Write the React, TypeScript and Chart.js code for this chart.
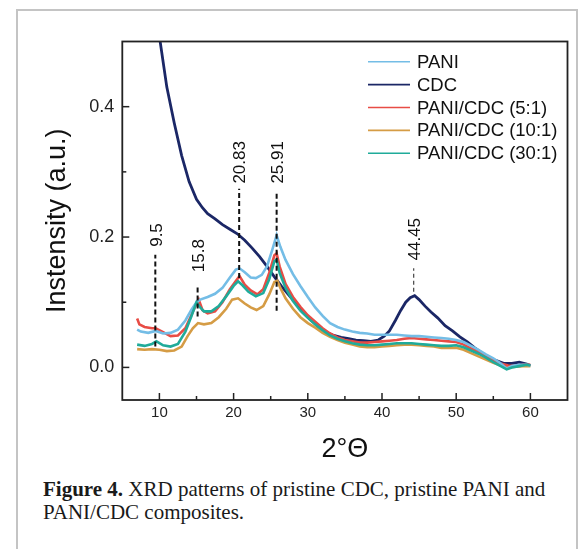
import React, { useEffect, useRef } from 'react';
import { Chart, registerables } from 'chart.js';

Chart.register(...registerables);

const SANS = '"Liberation Sans", Arial, sans-serif';

// ---------- data ----------
const seriesNames = ['PANI', 'CDC', 'PANI/CDC (5:1)', 'PANI/CDC (10:1)', 'PANI/CDC (30:1)'];
const seriesColors = ['#74bde6', '#1b2766', '#e84c45', '#d59c45', '#1fab9a'];

const paniX = [7.0, 7.5, 8.5, 9.5, 10.5, 11.5, 12.5, 13.5, 14.3, 15.0, 15.5, 16.5, 17.5, 18.5, 19.5, 20.3, 20.8, 21.5, 22.3, 23.0, 23.8, 24.5, 25.2, 25.8, 26.3, 27.0, 28.0, 29.0, 30.0, 31.0, 32.0, 33.0, 34.0, 35.0, 36.0, 37.0, 38.0, 39.0, 40.0, 41.0, 42.0, 43.0, 44.0, 45.0, 46.0, 47.0, 48.0, 49.0, 50.0, 51.0, 52.0, 53.0, 54.0, 55.0, 56.0, 56.8, 57.5, 58.5, 59.5, 60.0];
const paniY = [0.058, 0.055, 0.053, 0.056, 0.052, 0.053, 0.058, 0.072, 0.088, 0.100, 0.104, 0.108, 0.113, 0.122, 0.138, 0.150, 0.152, 0.146, 0.138, 0.137, 0.142, 0.155, 0.180, 0.203, 0.185, 0.165, 0.143, 0.125, 0.108, 0.092, 0.079, 0.068, 0.062, 0.058, 0.055, 0.053, 0.052, 0.050, 0.050, 0.050, 0.050, 0.049, 0.048, 0.048, 0.047, 0.046, 0.045, 0.044, 0.042, 0.039, 0.033, 0.027, 0.020, 0.014, 0.006, -0.002, 0.002, 0.004, 0.004, 0.003];

const cdcX = [9.5, 10.1, 11.0, 12.0, 13.0, 14.0, 15.0, 15.8, 16.5, 17.5, 18.5, 19.5, 20.5, 21.5, 22.5, 23.5, 24.5, 25.5, 26.5, 27.5, 28.5, 29.5, 30.5, 31.5, 32.5, 33.5, 34.5, 35.5, 36.5, 37.5, 38.5, 39.5, 40.3, 41.0, 41.8, 42.5, 43.2, 43.8, 44.4, 45.0, 45.8, 46.6, 47.5, 48.5, 49.5, 50.5, 51.5, 52.5, 53.5, 54.5, 55.5, 56.5, 57.5, 58.5, 59.5, 60.0];
const cdcY = [0.55, 0.50, 0.43, 0.375, 0.325, 0.285, 0.258, 0.245, 0.236, 0.228, 0.219, 0.212, 0.205, 0.195, 0.183, 0.170, 0.155, 0.139, 0.124, 0.110, 0.097, 0.083, 0.072, 0.062, 0.054, 0.049, 0.046, 0.044, 0.042, 0.041, 0.040, 0.042, 0.048, 0.056, 0.072, 0.087, 0.100, 0.107, 0.110, 0.104, 0.094, 0.085, 0.076, 0.064, 0.056, 0.047, 0.039, 0.030, 0.022, 0.014, 0.010, 0.006, 0.006, 0.008, 0.005, 0.003];

const p5X = [7.0, 7.3, 8.0, 9.0, 9.5, 10.5, 11.5, 12.5, 13.5, 14.3, 15.0, 15.3, 15.8, 16.5, 17.5, 18.5, 19.5, 20.4, 20.8, 21.5, 22.3, 23.2, 24.0, 24.8, 25.5, 25.8, 26.2, 27.0, 28.0, 29.0, 30.0, 31.0, 32.0, 33.0, 34.0, 35.0, 36.0, 37.0, 38.0, 39.0, 40.0, 41.0, 42.0, 43.0, 44.0, 45.0, 46.0, 47.0, 48.0, 49.0, 50.0, 51.0, 52.0, 53.0, 54.0, 55.0, 56.0, 57.0, 58.0, 59.0, 60.0];
const p5Y = [0.075, 0.066, 0.062, 0.060, 0.060, 0.054, 0.048, 0.049, 0.060, 0.080, 0.098, 0.104, 0.088, 0.083, 0.086, 0.100, 0.120, 0.134, 0.140, 0.127, 0.118, 0.112, 0.120, 0.145, 0.172, 0.175, 0.155, 0.128, 0.108, 0.093, 0.080, 0.070, 0.060, 0.052, 0.046, 0.042, 0.040, 0.038, 0.038, 0.039, 0.040, 0.041, 0.042, 0.044, 0.045, 0.044, 0.043, 0.042, 0.041, 0.040, 0.039, 0.035, 0.029, 0.023, 0.017, 0.011, 0.006, 0.003, 0.002, 0.004, 0.004];

const p10X = [7.0, 8.0, 9.0, 10.0, 11.0, 12.0, 13.0, 13.8, 14.5, 15.2, 16.0, 17.0, 18.0, 19.0, 19.8, 20.6, 21.5, 22.3, 23.1, 24.0, 24.8, 25.5, 25.9, 26.3, 27.0, 28.0, 29.0, 30.0, 31.0, 32.0, 33.0, 34.0, 35.0, 36.0, 37.0, 38.0, 39.0, 40.0, 41.0, 42.0, 43.0, 44.0, 45.0, 46.0, 47.0, 48.0, 49.0, 50.0, 51.0, 52.0, 53.0, 54.0, 55.0, 56.0, 57.0, 58.0, 59.0, 60.0];
const p10Y = [0.028, 0.027, 0.028, 0.027, 0.025, 0.026, 0.032, 0.048, 0.060, 0.068, 0.066, 0.068, 0.077, 0.090, 0.104, 0.106, 0.098, 0.092, 0.088, 0.094, 0.112, 0.131, 0.133, 0.122, 0.106, 0.090, 0.077, 0.068, 0.061, 0.053, 0.047, 0.042, 0.038, 0.035, 0.032, 0.031, 0.031, 0.032, 0.033, 0.034, 0.035, 0.035, 0.034, 0.033, 0.032, 0.030, 0.030, 0.030, 0.027, 0.022, 0.017, 0.012, 0.007, 0.003, 0.000, 0.001, 0.002, 0.002];

const p30X = [7.0, 8.0, 9.0, 9.6, 10.5, 11.5, 12.5, 13.5, 14.3, 15.0, 15.5, 16.0, 17.0, 18.0, 19.0, 20.0, 20.6, 21.2, 22.0, 23.0, 24.0, 24.8, 25.5, 25.8, 26.2, 27.0, 28.0, 29.0, 30.0, 31.0, 32.0, 33.0, 34.0, 35.0, 36.0, 37.0, 38.0, 39.0, 40.0, 41.0, 42.0, 43.0, 44.0, 45.0, 46.0, 47.0, 48.0, 49.0, 50.0, 51.0, 52.0, 53.0, 54.0, 55.0, 56.0, 56.8, 57.5, 58.5, 59.5, 60.0];
const p30Y = [0.035, 0.033, 0.036, 0.040, 0.034, 0.032, 0.036, 0.055, 0.078, 0.100, 0.092, 0.086, 0.086, 0.094, 0.109, 0.125, 0.132, 0.126, 0.116, 0.109, 0.114, 0.135, 0.163, 0.165, 0.145, 0.122, 0.102, 0.087, 0.076, 0.066, 0.057, 0.049, 0.044, 0.040, 0.037, 0.035, 0.034, 0.034, 0.035, 0.036, 0.037, 0.037, 0.037, 0.036, 0.035, 0.034, 0.033, 0.033, 0.034, 0.031, 0.026, 0.021, 0.015, 0.008, 0.002, -0.003, 0.000, 0.002, 0.004, 0.003];

const xTickValues = [10, 20, 30, 40, 50, 60];
const xMinorTicks = [15, 25, 35, 45, 55];
const yTickValues = [0.0, 0.2, 0.4];
const yMinorTicks = [0.1, 0.3];

const peakPositions = [9.45, 15.15, 20.75, 25.8, 44.27];
const peakLabels = ['9.5', '15.8', '20.83', '25.91', '44.45'];
const peakLineBottom = [0.032, 0.078, 0.137, 0.087, 0.116];
const peakLineTop = [0.173, 0.127, 0.274, 0.269, 0.152];
const peakLabelBase = [0.185, 0.146, 0.282, 0.282, 0.164];

const xTitle = '2°Θ';
const yTitle = 'Instensity (a.u.)';

// ---------- helpers ----------
const toPoints = (xs: number[], ys: number[]) => xs.map((x, i) => ({ x, y: ys[i] }));

const seriesData = [
  toPoints(paniX, paniY),
  toPoints(cdcX, cdcY),
  toPoints(p5X, p5Y),
  toPoints(p10X, p10Y),
  toPoints(p30X, p30Y),
];
// drawing order: lower number drawn on top
const drawOrder = [1, 4, 2, 3, 0];
const lineWidths = [2.6, 2.8, 2.6, 2.6, 2.6];

const overlayPlugin = {
  id: 'overlay',
  afterDatasetsDraw(chart: any) {
    const { ctx, chartArea: a, scales } = chart;
    const xs = scales.x;
    const ys = scales.y;
    ctx.save();

    // peak markers
    peakPositions.forEach((p, i) => {
      const px = xs.getPixelForValue(p);
      const thin = i === 4;
      ctx.beginPath();
      ctx.setLineDash(thin ? [4, 3] : [5, 3]);
      ctx.lineWidth = thin ? 1.2 : 2;
      ctx.strokeStyle = thin ? '#444' : '#111';
      ctx.moveTo(px, ys.getPixelForValue(peakLineBottom[i]));
      ctx.lineTo(px, ys.getPixelForValue(peakLineTop[i]));
      ctx.stroke();
      ctx.setLineDash([]);
      ctx.save();
      ctx.translate(px + 1.5, ys.getPixelForValue(peakLabelBase[i]));
      ctx.rotate(-Math.PI / 2);
      ctx.font = `17px ${SANS}`;
      ctx.fillStyle = '#111';
      ctx.textAlign = 'left';
      ctx.textBaseline = 'middle';
      ctx.fillText(peakLabels[i], 0, 0);
      ctx.restore();
    });

    // inward tick marks
    ctx.strokeStyle = '#222';
    ctx.lineWidth = 1.5;
    const tickX = (v: number, len: number) => {
      const px = xs.getPixelForValue(v);
      ctx.beginPath();
      ctx.moveTo(px, a.bottom);
      ctx.lineTo(px, a.bottom - len);
      ctx.stroke();
    };
    const tickY = (v: number, len: number) => {
      const py = ys.getPixelForValue(v);
      ctx.beginPath();
      ctx.moveTo(a.left, py);
      ctx.lineTo(a.left + len, py);
      ctx.stroke();
    };
    xTickValues.forEach((v) => tickX(v, 7));
    xMinorTicks.forEach((v) => tickX(v, 4));
    yTickValues.forEach((v) => tickY(v, 7));
    yMinorTicks.forEach((v) => tickY(v, 4));

    // frame
    ctx.lineWidth = 1.8;
    ctx.strokeRect(a.left, a.top, a.right - a.left, a.bottom - a.top);

    // legend
    ctx.font = `18.5px ${SANS}`;
    ctx.textAlign = 'left';
    ctx.textBaseline = 'middle';
    seriesNames.forEach((name, i) => {
      const y = a.top + 20.2 + i * 22.9;
      ctx.beginPath();
      ctx.strokeStyle = seriesColors[i];
      ctx.lineWidth = 1.6;
      ctx.moveTo(a.right - 199.5, y);
      ctx.lineTo(a.right - 157.5, y);
      ctx.stroke();
      ctx.fillStyle = '#111';
      ctx.fillText(name, a.right - 150.5, y + 1);
    });
    ctx.restore();
  },
};

export default function App() {
  const ref = useRef<HTMLCanvasElement | null>(null);

  useEffect(() => {
    if (!ref.current) return;
    const chart = new Chart(ref.current, {
      type: 'line',
      data: {
        datasets: seriesNames.map((name, i) => ({
          label: name,
          data: seriesData[i],
          borderColor: seriesColors[i],
          backgroundColor: seriesColors[i],
          borderWidth: lineWidths[i],
          pointRadius: 0,
          tension: 0,
          fill: false,
          order: drawOrder[i],
        })),
      },
      options: {
        animation: false,
        responsive: false,
        devicePixelRatio: 1,
        layout: { padding: { left: 0, top: 41.5, right: 16.5, bottom: 0 } },
        plugins: { legend: { display: false }, tooltip: { enabled: false } },
        scales: {
          x: {
            type: 'linear',
            min: 5,
            max: 65,
            grid: { display: false, drawTicks: false },
            border: { display: false },
            afterBuildTicks: (s: any) => {
              s.ticks = xTickValues.map((v) => ({ value: v }));
            },
            afterFit: (s: any) => {
              s.height = 70;
            },
            ticks: {
              padding: 4,
              color: '#222',
              font: { family: SANS, size: 15 },
              maxRotation: 0,
              callback: (v: any) => String(v),
            },
            title: {
              display: true,
              text: xTitle,
              color: '#111',
              font: { family: SANS, size: 27 },
              padding: { top: 0, bottom: 4.5 },
            },
          },
          y: {
            type: 'linear',
            min: -0.05,
            max: 0.5,
            grid: { display: false, drawTicks: false },
            border: { display: false },
            afterBuildTicks: (s: any) => {
              s.ticks = yTickValues.map((v) => ({ value: v }));
            },
            afterFit: (s: any) => {
              s.width = 122.3;
            },
            ticks: {
              padding: 8,
              color: '#222',
              font: { family: SANS, size: 18 },
              callback: (v: any) => Number(v).toFixed(1),
            },
            title: {
              display: true,
              text: yTitle,
              color: '#111',
              font: { family: SANS, size: 27 },
              padding: { top: 41, bottom: 0 },
            },
          },
        },
      },
      plugins: [overlayPlugin],
    } as any);
    return () => chart.destroy();
  }, []);

  return (
    <div style={{ position: 'absolute', left: 0, top: 0, width: 584, height: 549, overflow: 'hidden', background: '#fff' }}>
      <div
        style={{
          position: 'absolute',
          left: 16,
          top: 9,
          width: 562,
          height: 600,
          boxSizing: 'border-box',
          borderTop: '2px solid #c4c4c4',
          borderLeft: '2px solid #c4c4c4',
          borderRight: '2px solid #c4c4c4',
        }}
      />
      <canvas ref={ref} width={584} height={470} style={{ position: 'absolute', left: 0, top: 0, width: 584, height: 470 }} />
      <div
        style={{
          position: 'absolute',
          left: 43,
          top: 478,
          width: 530,
          fontFamily: '"Liberation Serif", "Times New Roman", serif',
          fontSize: 21,
          lineHeight: '23px',
          color: '#1a1a1a',
          whiteSpace: 'nowrap',
        }}
      >
        <b>Figure 4.</b> XRD patterns of pristine CDC, pristine PANI and
        <br />
        PANI/CDC composites.
      </div>
    </div>
  );
}
